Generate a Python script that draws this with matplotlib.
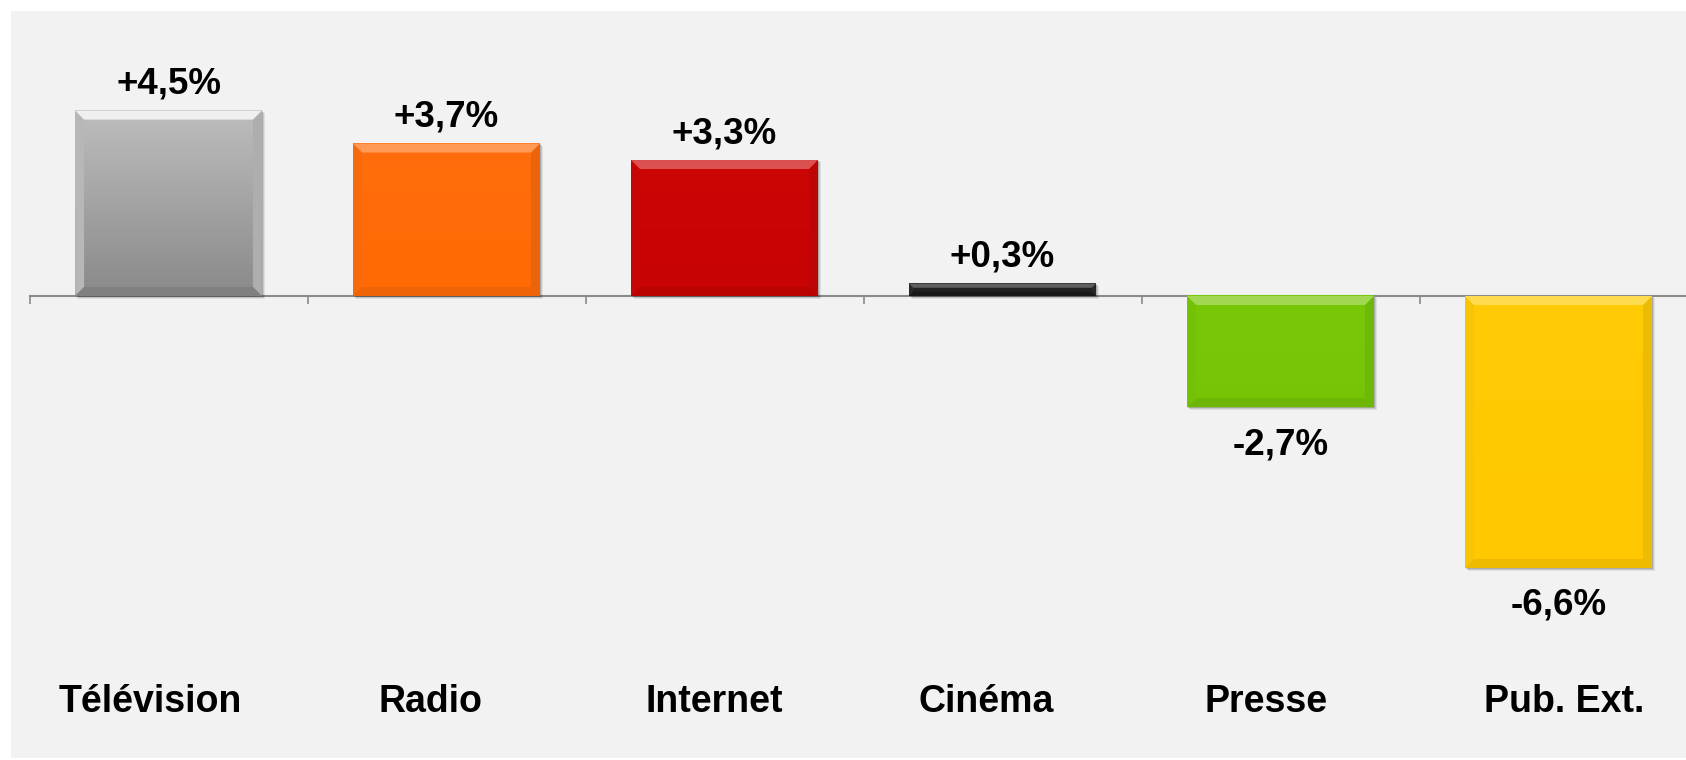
import matplotlib
matplotlib.use("Agg")
import matplotlib.pyplot as plt
import numpy as np
from matplotlib.colors import to_rgb, LinearSegmentedColormap
from matplotlib.patches import Polygon, Rectangle

plt.rcParams["font.family"] = ["Liberation Sans", "DejaVu Sans"]

# Data
categories = ["Télévision", "Radio", "Internet", "Cinéma", "Presse", "Pub. Ext."]
values = [4.5, 3.7, 3.3, 0.3, -2.7, -6.6]
value_labels = ["+4,5%", "+3,7%", "+3,3%", "+0,3%", "-2,7%", "-6,6%"]

# Style (top and bottom colours of each bar's body)
top_colors = ["#bdbdbd", "#ff6d0c", "#cc0505", "#2a2a2a", "#78c808", "#ffcb05"]
bottom_colors = ["#8a8a8a", "#ff6a05", "#c80303", "#1a1a1a", "#76c406", "#ffc800"]
# horizontal shift of the category labels, in pixels
label_shift_px = [-18, -16, -10, -16, -14, 6]

W, H, DPI = 1686, 760, 100
ZERO_PX = 296.0      # y pixel of the zero line
PX_PER_UNIT = 41.2   # pixels per percentage point
CAT_PX = 278.0       # pixels per category
LEFT_PX = 29.5

fig = plt.figure(figsize=(W / DPI, H / DPI), dpi=DPI)
fig.patch.set_facecolor("white")
fig.patches.append(Rectangle((11 / W, 2 / H), 1.0, (H - 13) / H,
                             transform=fig.transFigure, facecolor="#f2f2f2",
                             edgecolor="none", zorder=-5))

ax = fig.add_axes([LEFT_PX / W, 0.0, 6 * CAT_PX / W, 1.0])
ax.patch.set_visible(False)
y_top = ZERO_PX / PX_PER_UNIT
y_bot = -(H - ZERO_PX) / PX_PER_UNIT


def mix(c, other, t):
    a = np.array(to_rgb(c))
    b = np.array(to_rgb(other))
    return tuple(a * (1 - t) + b * t)


bar_w = 0.672
for i, (v, ct, cb) in enumerate(zip(values, top_colors, bottom_colors)):
    x0, x1 = i - bar_w / 2, i + bar_w / 2
    hi, lo = max(v, 0.0), min(v, 0.0)
    hpx = abs(v) * PX_PER_UNIT
    bev = min(9.0, hpx / 3.0)
    dx = bev / CAT_PX
    dy = bev / PX_PER_UNIT

    # drop shadow
    for k, a in enumerate([0.08, 0.10, 0.14]):
        off = (3 - k) / CAT_PX
        offy = (3 - k) / PX_PER_UNIT
        ax.add_patch(Rectangle((x0 + off, lo - offy), x1 - x0, hi - lo + offy * 0.3,
                               facecolor="#000000", alpha=a, edgecolor="none", zorder=2.6))

    # body with vertical gradient
    cmap = LinearSegmentedColormap.from_list("g%d" % i, [cb, ct])
    grad = np.linspace(1, 0, 64).reshape(-1, 1)
    ax.imshow(grad, extent=[x0, x1, lo, hi], aspect="auto", cmap=cmap,
              vmin=0, vmax=1, zorder=3, interpolation="bilinear")

    top_bev = [(x0, hi), (x1, hi), (x1 - dx, hi - dy), (x0 + dx, hi - dy)]
    bot_bev = [(x0, lo), (x1, lo), (x1 - dx, lo + dy), (x0 + dx, lo + dy)]
    left_bev = [(x0, lo), (x0, hi), (x0 + dx, hi - dy), (x0 + dx, lo + dy)]
    right_bev = [(x1, lo), (x1, hi), (x1 - dx, hi - dy), (x1 - dx, lo + dy)]
    light = 0.75 if i == 0 else (0.25 if i == 3 else 0.3)
    ax.add_patch(Polygon(top_bev, closed=True, facecolor=mix(ct, "white", light),
                         edgecolor="none", zorder=3.2))
    ax.add_patch(Polygon(bot_bev, closed=True, facecolor=mix(cb, "black", 0.07),
                         edgecolor="none", zorder=3.2))
    ax.add_patch(Polygon(left_bev, closed=True, facecolor=mix(ct, "black", 0.03),
                         edgecolor="none", zorder=3.1))
    ax.add_patch(Polygon(right_bev, closed=True, facecolor=mix(ct, "black", 0.08),
                         edgecolor="none", zorder=3.1))

    # value label
    if v >= 0:
        ax.annotate(value_labels[i], (i, hi), xytext=(0, 17 * 0.72),
                    textcoords="offset points", ha="center", va="baseline",
                    fontsize=26.5, fontweight="bold", color="black", zorder=5)
    else:
        ax.annotate(value_labels[i], (i, lo), xytext=(0, -47 * 0.72),
                    textcoords="offset points", ha="center", va="baseline",
                    fontsize=26.5, fontweight="bold", color="black", zorder=5)

# category labels
cat_y = (ZERO_PX - 712) / PX_PER_UNIT
for i, name in enumerate(categories):
    ax.text(i + label_shift_px[i] / CAT_PX, cat_y, name, ha="center", va="baseline",
            fontsize=27, fontweight="bold", color="black")

ax.set_xlim(-0.5, 5.5)
ax.set_ylim(y_bot, y_top)
for s in ["top", "right", "left"]:
    ax.spines[s].set_visible(False)
ax.spines["bottom"].set_position(("data", 0))
ax.spines["bottom"].set_color("#8a8a8a")
ax.spines["bottom"].set_linewidth(1.5)
ax.set_xticks(np.arange(-0.5, 6.0, 1.0))
ax.tick_params(axis="x", direction="out", length=6, width=1.2, color="#8a8a8a",
               labelbottom=False)
ax.set_yticks([])

fig.savefig("out.png", dpi=DPI, facecolor=fig.get_facecolor())
